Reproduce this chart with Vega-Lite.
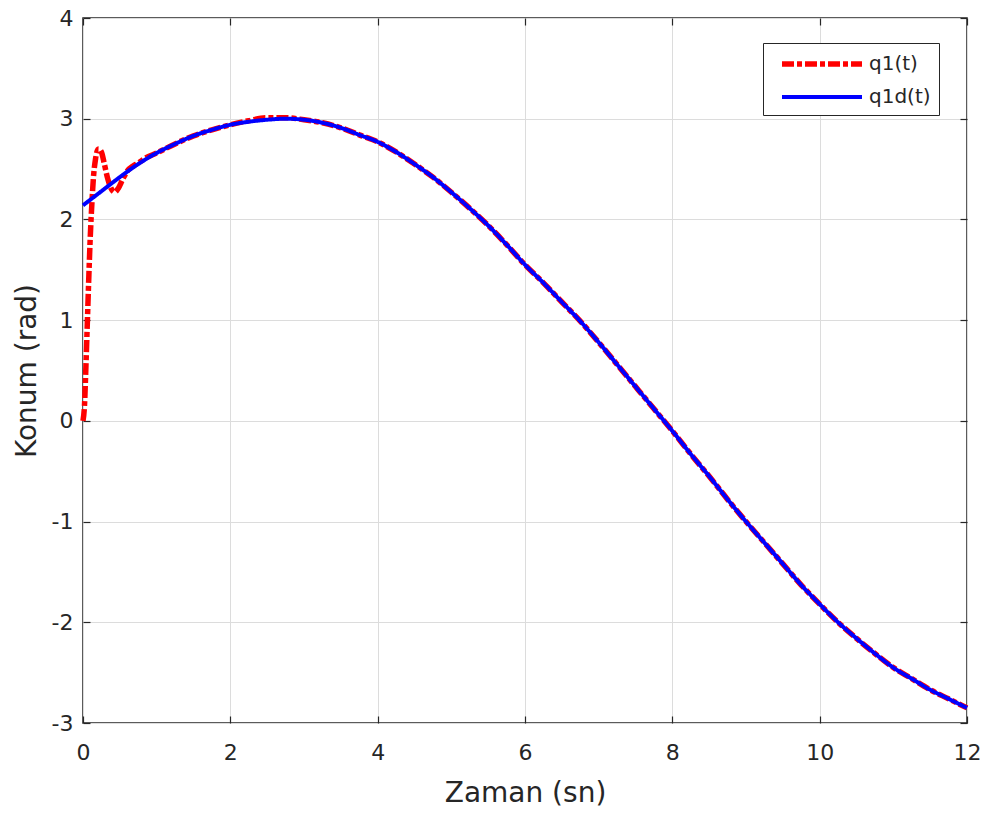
{
  "$schema": "https://vega.github.io/schema/vega-lite/v6.json",
  "width": 884,
  "height": 705,
  "autosize": "none",
  "padding": {"left": 83, "top": 18, "right": 19, "bottom": 90},
  "background": "white",
  "config": {
    "font": "DejaVu Sans",
    "view": {"stroke": "#262626", "strokeWidth": 1.5}
  },
  "datasets": {
    "d": [
      {"t": 0, "q": 0.0, "series": "q1(t)"},
      {"t": 0.02, "q": 0.15, "series": "q1(t)"},
      {"t": 0.04, "q": 0.55, "series": "q1(t)"},
      {"t": 0.06, "q": 1.0, "series": "q1(t)"},
      {"t": 0.08, "q": 1.45, "series": "q1(t)"},
      {"t": 0.1, "q": 1.85, "series": "q1(t)"},
      {"t": 0.12, "q": 2.15, "series": "q1(t)"},
      {"t": 0.14, "q": 2.4, "series": "q1(t)"},
      {"t": 0.17, "q": 2.6, "series": "q1(t)"},
      {"t": 0.21, "q": 2.7, "series": "q1(t)"},
      {"t": 0.25, "q": 2.67, "series": "q1(t)"},
      {"t": 0.29, "q": 2.55, "series": "q1(t)"},
      {"t": 0.33, "q": 2.42, "series": "q1(t)"},
      {"t": 0.38, "q": 2.31, "series": "q1(t)"},
      {"t": 0.43, "q": 2.27, "series": "q1(t)"},
      {"t": 0.48, "q": 2.31, "series": "q1(t)"},
      {"t": 0.54, "q": 2.4, "series": "q1(t)"},
      {"t": 0.6, "q": 2.48, "series": "q1(t)"},
      {"t": 0.68, "q": 2.53, "series": "q1(t)"},
      {"t": 0.75, "q": 2.56, "series": "q1(t)"},
      {"t": 0.85, "q": 2.61, "series": "q1(t)"},
      {"t": 1, "q": 2.66, "series": "q1(t)"},
      {"t": 1.25, "q": 2.75, "series": "q1(t)"},
      {"t": 1.5, "q": 2.83, "series": "q1(t)"},
      {"t": 1.75, "q": 2.89, "series": "q1(t)"},
      {"t": 2, "q": 2.94, "series": "q1(t)"},
      {"t": 2.25, "q": 2.98, "series": "q1(t)"},
      {"t": 2.5, "q": 3.01, "series": "q1(t)"},
      {"t": 2.75, "q": 3.01, "series": "q1(t)"},
      {"t": 3, "q": 2.99, "series": "q1(t)"},
      {"t": 3.25, "q": 2.96, "series": "q1(t)"},
      {"t": 3.5, "q": 2.91, "series": "q1(t)"},
      {"t": 3.75, "q": 2.84, "series": "q1(t)"},
      {"t": 4, "q": 2.77, "series": "q1(t)"},
      {"t": 4.25, "q": 2.67, "series": "q1(t)"},
      {"t": 4.5, "q": 2.55, "series": "q1(t)"},
      {"t": 4.75, "q": 2.42, "series": "q1(t)"},
      {"t": 5, "q": 2.27, "series": "q1(t)"},
      {"t": 5.25, "q": 2.11, "series": "q1(t)"},
      {"t": 5.5, "q": 1.94, "series": "q1(t)"},
      {"t": 5.75, "q": 1.75, "series": "q1(t)"},
      {"t": 6, "q": 1.55, "series": "q1(t)"},
      {"t": 6.25, "q": 1.37, "series": "q1(t)"},
      {"t": 6.5, "q": 1.18, "series": "q1(t)"},
      {"t": 6.75, "q": 0.99, "series": "q1(t)"},
      {"t": 7, "q": 0.78, "series": "q1(t)"},
      {"t": 7.25, "q": 0.56, "series": "q1(t)"},
      {"t": 7.5, "q": 0.34, "series": "q1(t)"},
      {"t": 7.75, "q": 0.12, "series": "q1(t)"},
      {"t": 8, "q": -0.1, "series": "q1(t)"},
      {"t": 8.25, "q": -0.33, "series": "q1(t)"},
      {"t": 8.5, "q": -0.55, "series": "q1(t)"},
      {"t": 8.75, "q": -0.78, "series": "q1(t)"},
      {"t": 9, "q": -1.0, "series": "q1(t)"},
      {"t": 9.25, "q": -1.21, "series": "q1(t)"},
      {"t": 9.5, "q": -1.42, "series": "q1(t)"},
      {"t": 9.75, "q": -1.63, "series": "q1(t)"},
      {"t": 10, "q": -1.82, "series": "q1(t)"},
      {"t": 10.25, "q": -2.0, "series": "q1(t)"},
      {"t": 10.5, "q": -2.16, "series": "q1(t)"},
      {"t": 10.75, "q": -2.31, "series": "q1(t)"},
      {"t": 11, "q": -2.45, "series": "q1(t)"},
      {"t": 11.25, "q": -2.56, "series": "q1(t)"},
      {"t": 11.5, "q": -2.67, "series": "q1(t)"},
      {"t": 11.75, "q": -2.76, "series": "q1(t)"},
      {"t": 12, "q": -2.85, "series": "q1(t)"},
      {"t": 0, "q": 2.14, "series": "q1d(t)"},
      {"t": 0.25, "q": 2.28, "series": "q1d(t)"},
      {"t": 0.5, "q": 2.42, "series": "q1d(t)"},
      {"t": 0.75, "q": 2.55, "series": "q1d(t)"},
      {"t": 1, "q": 2.66, "series": "q1d(t)"},
      {"t": 1.25, "q": 2.75, "series": "q1d(t)"},
      {"t": 1.5, "q": 2.83, "series": "q1d(t)"},
      {"t": 1.75, "q": 2.89, "series": "q1d(t)"},
      {"t": 2, "q": 2.94, "series": "q1d(t)"},
      {"t": 2.25, "q": 2.97, "series": "q1d(t)"},
      {"t": 2.5, "q": 2.99, "series": "q1d(t)"},
      {"t": 2.75, "q": 3.0, "series": "q1d(t)"},
      {"t": 3, "q": 2.99, "series": "q1d(t)"},
      {"t": 3.25, "q": 2.96, "series": "q1d(t)"},
      {"t": 3.5, "q": 2.91, "series": "q1d(t)"},
      {"t": 3.75, "q": 2.84, "series": "q1d(t)"},
      {"t": 4, "q": 2.77, "series": "q1d(t)"},
      {"t": 4.25, "q": 2.67, "series": "q1d(t)"},
      {"t": 4.5, "q": 2.55, "series": "q1d(t)"},
      {"t": 4.75, "q": 2.42, "series": "q1d(t)"},
      {"t": 5, "q": 2.27, "series": "q1d(t)"},
      {"t": 5.25, "q": 2.11, "series": "q1d(t)"},
      {"t": 5.5, "q": 1.94, "series": "q1d(t)"},
      {"t": 5.75, "q": 1.75, "series": "q1d(t)"},
      {"t": 6, "q": 1.55, "series": "q1d(t)"},
      {"t": 6.25, "q": 1.37, "series": "q1d(t)"},
      {"t": 6.5, "q": 1.18, "series": "q1d(t)"},
      {"t": 6.75, "q": 0.99, "series": "q1d(t)"},
      {"t": 7, "q": 0.78, "series": "q1d(t)"},
      {"t": 7.25, "q": 0.56, "series": "q1d(t)"},
      {"t": 7.5, "q": 0.34, "series": "q1d(t)"},
      {"t": 7.75, "q": 0.12, "series": "q1d(t)"},
      {"t": 8, "q": -0.1, "series": "q1d(t)"},
      {"t": 8.25, "q": -0.33, "series": "q1d(t)"},
      {"t": 8.5, "q": -0.55, "series": "q1d(t)"},
      {"t": 8.75, "q": -0.78, "series": "q1d(t)"},
      {"t": 9, "q": -1.0, "series": "q1d(t)"},
      {"t": 9.25, "q": -1.21, "series": "q1d(t)"},
      {"t": 9.5, "q": -1.42, "series": "q1d(t)"},
      {"t": 9.75, "q": -1.63, "series": "q1d(t)"},
      {"t": 10, "q": -1.82, "series": "q1d(t)"},
      {"t": 10.25, "q": -2.0, "series": "q1d(t)"},
      {"t": 10.5, "q": -2.16, "series": "q1d(t)"},
      {"t": 10.75, "q": -2.31, "series": "q1d(t)"},
      {"t": 11, "q": -2.45, "series": "q1d(t)"},
      {"t": 11.25, "q": -2.56, "series": "q1d(t)"},
      {"t": 11.5, "q": -2.67, "series": "q1d(t)"},
      {"t": 11.75, "q": -2.76, "series": "q1d(t)"},
      {"t": 12, "q": -2.85, "series": "q1d(t)"}
    ]
  },
  "data": {"name": "d"},
  "layer": [
    {
      "mark": {"type": "line", "interpolate": "monotone", "strokeCap": "butt"},
      "encoding": {
        "x": {
          "field": "t", "type": "quantitative",
          "scale": {"domain": [0, 12], "nice": false, "zero": false},
          "axis": {
            "orient": "bottom", "values": [0, 2, 4, 6, 8, 10, 12], "labelExpr": "datum.value + ''",
            "labelFlush": false,
            "title": "Zaman (sn)", "titleFontSize": 28, "titleFontWeight": "normal", "titleColor": "#262626",
            "titlePadding": 16,
            "labelFontSize": 22, "labelColor": "#262626", "labelPadding": 26,
            "domain": false, "tickSize": -7, "tickColor": "#262626", "tickWidth": 1.2,
            "grid": true, "gridColor": "#dcdcdc", "gridWidth": 1
          }
        },
        "y": {
          "field": "q", "type": "quantitative",
          "scale": {"domain": [-3, 4], "nice": false, "zero": false},
          "axis": {
            "orient": "left", "values": [-3, -2, -1, 0, 1, 2, 3, 4], "labelExpr": "datum.value + ''",
            "labelFlush": false,
            "title": "Konum (rad)", "titleFontSize": 28, "titleFontWeight": "normal", "titleColor": "#262626",
            "titlePadding": 10,
            "labelFontSize": 22, "labelColor": "#262626", "labelPadding": 17,
            "domain": false, "tickSize": -7, "tickColor": "#262626", "tickWidth": 1.2,
            "grid": true, "gridColor": "#dcdcdc", "gridWidth": 1
          }
        },
        "color": {
          "field": "series", "type": "nominal",
          "scale": {"domain": ["q1(t)", "q1d(t)"], "range": ["#ff0000", "#0000ff"]},
          "legend": {
            "title": null, "orient": "none", "legendX": 680, "legendY": 25,
            "direction": "vertical",
            "symbolType": "M-0.2,0H7.8", "symbolSize": 400, "symbolStrokeWidth": 5,
            "labelFontSize": 20, "labelColor": "#262626", "labelOffset": 72,
            "rowPadding": 10, "padding": 8,
            "strokeColor": "#262626", "fillColor": "white"
          }
        },
        "strokeDash": {
          "field": "series", "type": "nominal",
          "scale": {"domain": ["q1(t)", "q1d(t)"], "range": [[12, 3, 5, 3], [1, 0]]},
          "legend": {
            "title": null, "orient": "none", "legendX": 680, "legendY": 25,
            "direction": "vertical",
            "symbolType": "M-0.2,0H7.8", "symbolSize": 400, "symbolStrokeWidth": 5,
            "labelFontSize": 20, "labelColor": "#262626", "labelOffset": 72,
            "rowPadding": 10, "padding": 8,
            "strokeColor": "#262626", "fillColor": "white"
          }
        },
        "strokeWidth": {
          "field": "series", "type": "nominal",
          "scale": {"domain": ["q1(t)", "q1d(t)"], "range": [5.5, 4]},
          "legend": null
        }
      }
    },
    {
      "mark": {"type": "line", "opacity": 0},
      "encoding": {
        "x": {
          "field": "t", "type": "quantitative",
          "scale": {"domain": [0, 12], "nice": false, "zero": false},
          "axis": {
            "orient": "top", "values": [0, 2, 4, 6, 8, 10, 12], "labels": false, "title": null,
            "domain": false, "tickSize": -7, "tickColor": "#262626", "tickWidth": 1.2, "grid": false
          }
        },
        "y": {
          "field": "q", "type": "quantitative",
          "scale": {"domain": [-3, 4], "nice": false, "zero": false},
          "axis": {
            "orient": "right", "values": [-3, -2, -1, 0, 1, 2, 3, 4], "labels": false, "title": null,
            "domain": false, "tickSize": -7, "tickColor": "#262626", "tickWidth": 1.2, "grid": false
          }
        },
        "detail": {"field": "series"}
      }
    }
  ],
  "resolve": {"axis": {"x": "independent", "y": "independent"}}
}
